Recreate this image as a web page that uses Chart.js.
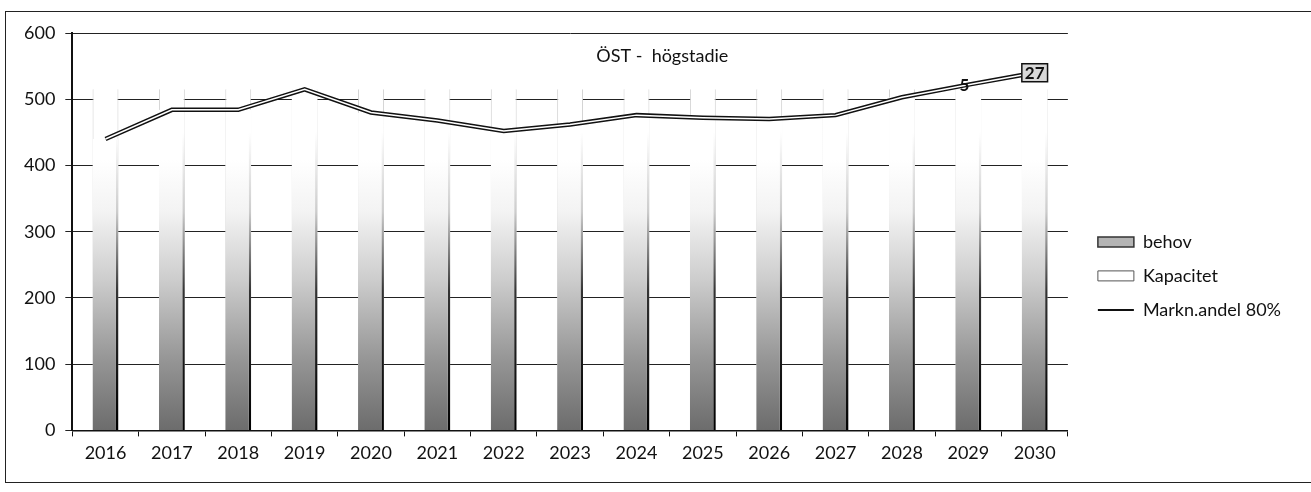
<!DOCTYPE html>
<html>
<head>
<meta charset="utf-8">
<script src="https://cdn.jsdelivr.net/npm/chart.js@4"></script>
<style>
  html, body { margin: 0; padding: 0; background: #fff; }
  #wrap { position: relative; width: 1311px; height: 492px; }
  #frame { position: absolute; left: 5px; top: 11px; width: 1310px; height: 470px;
           border-left: 1.5px solid #222; border-top: 1.5px solid #222; border-bottom: 1.5px solid #222; }
</style>
</head>
<body>
<div id="wrap">
  <div id="frame"></div>
  <canvas id="chart"></canvas>
</div>
<script>
const years = ['2016', '2017', '2018', '2019', '2020', '2021', '2022', '2023',
               '2024', '2025', '2026', '2027', '2028', '2029', '2030'];
const behov = [440, 484, 484, 515, 480, 468, 452, 462, 476, 472, 470, 476, 503, 522, 540];
const kapacitet = [515, 515, 515, 515, 515, 515, 515, 515, 515, 515, 515, 515, 515, 515, 515];
const marknandel = [440, 484, 484, 515, 480, 468, 452, 462, 476, 472, 470, 476, 503, 522, 540];
const pointLabels = ['', '', '', '', '', '', '', '', '', '', '', '', '', '5', '27'];
const yTicks = [0, 100, 200, 300, 400, 500, 600];

const FONT = 'Lato, "Open Sans", sans-serif';

function fade(ctx, stops) {
    const area = ctx.chart.chartArea;
    if (!area) return '#999';
    const g = ctx.chart.ctx.createLinearGradient(0, area.bottom, 0, area.top);
    stops.forEach(s => g.addColorStop(s[0], s[1]));
    return g;
}

// title inside the plot, the two clipped data labels, legend nudge
const extras = {
    id: 'extras',
    afterLayout(chart) {
        chart.legend.left += 14;
        chart.legend.right += 14;
    },
    afterDraw(chart) {
        const c = chart.ctx;
        const area = chart.chartArea;
        c.save();
        c.fillStyle = '#111';
        c.font = '18px ' + FONT;
        c.textAlign = 'center';
        c.textBaseline = 'middle';
        c.fillText('ÖST -  högstadie', area.left + 590, area.top + 23);

        const meta = chart.getDatasetMeta(2);
        c.font = 'bold 17px ' + FONT;
        pointLabels.forEach((txt, i) => {
            if (!txt) return;
            const p = meta.data[i];
            if (txt.length > 1) {
                const w = c.measureText(txt).width + 6;
                c.fillStyle = '#d8d8d8';
                c.fillRect(p.x - w / 2, p.y - 9, w, 18);
                c.strokeStyle = '#111';
                c.lineWidth = 1.5;
                c.strokeRect(p.x - w / 2, p.y - 9, w, 18);
            }
            c.fillStyle = '#111';
            c.fillText(txt, p.x - (txt.length > 1 ? 0 : 4), p.y + 1);
        });
        c.restore();
    }
};

new Chart(document.getElementById('chart'), {
    type: 'bar',
    data: {
        labels: years,
        datasets: [
            {
                label: 'behov',
                data: behov,
                grouped: false,
                order: 2,
                backgroundColor: ctx => fade(ctx, [[0, '#6c6c6c'], [0.18, '#969696'], [0.38, '#cdcdcd'], [0.55, '#f3f3f3'], [0.68, '#ffffff']]),
                borderColor: ctx => fade(ctx, [[0, '#000'], [0.35, '#333'], [0.55, '#ccc'], [0.75, '#fff']]),
                borderWidth: { left: 0, right: 2.5, top: 0, bottom: 0 },
                borderSkipped: false,
                categoryPercentage: 1,
                barPercentage: 0.39
            },
            {
                label: 'Kapacitet',
                data: kapacitet,
                grouped: false,
                order: 3,
                backgroundColor: '#ffffff',
                borderColor: '#d0d0d0',
                borderWidth: { left: 1, right: 1, top: 0, bottom: 0 },
                borderSkipped: false,
                categoryPercentage: 1,
                barPercentage: 0.39
            },
            {
                type: 'line',
                label: 'Markn.andel 80%',
                data: marknandel,
                order: 1,
                borderColor: '#111',
                backgroundColor: '#111',
                borderWidth: 4.5,
                pointRadius: 0,
                tension: 0
            },
            {
                type: 'line',
                label: 'inner',
                data: marknandel,
                order: 0,
                borderColor: '#ffffff',
                borderWidth: 1.5,
                pointRadius: 0,
                tension: 0
            }
        ]
    },
    options: {
        responsive: true,
        maintainAspectRatio: false,
        animation: false,
        layout: { padding: { top: 33, right: 34, bottom: 22, left: 14 } },
        plugins: {
            legend: {
                position: 'right',
                title: { display: true, text: ' ', padding: { top: 0, bottom: 32 }, font: { size: 14 } },
                labels: {
                    color: '#111',
                    font: { family: FONT, size: 18 },
                    usePointStyle: true,
                    pointStyleWidth: 36,
                    boxHeight: 10,
                    padding: 16,
                    sort: (a, b) => a.datasetIndex - b.datasetIndex,
                    filter: item => item.datasetIndex < 3,
                    generateLabels(chart) {
                        const items = Chart.defaults.plugins.legend.labels.generateLabels(chart);
                        items.forEach(it => {
                            if (it.datasetIndex === 0) {
                                it.pointStyle = 'rect';
                                it.fillStyle = '#b4b4b4';
                                it.strokeStyle = '#333';
                                it.lineWidth = 1.5;
                            } else if (it.datasetIndex === 1) {
                                it.pointStyle = 'rect';
                                it.fillStyle = '#ffffff';
                                it.strokeStyle = '#555';
                                it.lineWidth = 1;
                            } else {
                                it.pointStyle = 'line';
                                it.strokeStyle = '#111';
                                it.lineWidth = 2;
                            }
                        });
                        return items;
                    }
                }
            },
            tooltip: { enabled: false }
        },
        scales: {
            x: {
                grid: { display: true, drawOnChartArea: false, color: '#111', tickLength: 6, offset: true },
                border: { color: '#111', width: 1.5 },
                ticks: { color: '#111', font: { family: FONT, size: 18 }, padding: 6 }
            },
            y: {
                min: 0,
                max: 600,
                afterBuildTicks: axis => { axis.ticks = yTicks.map(v => ({ value: v })); },
                grid: { color: '#222', lineWidth: 1, tickLength: 7 },
                border: { color: '#111', width: 2 },
                ticks: { color: '#111', font: { family: FONT, size: 18 }, padding: 10 }
            }
        }
    },
    plugins: [extras]
});
</script>
</body>
</html>
